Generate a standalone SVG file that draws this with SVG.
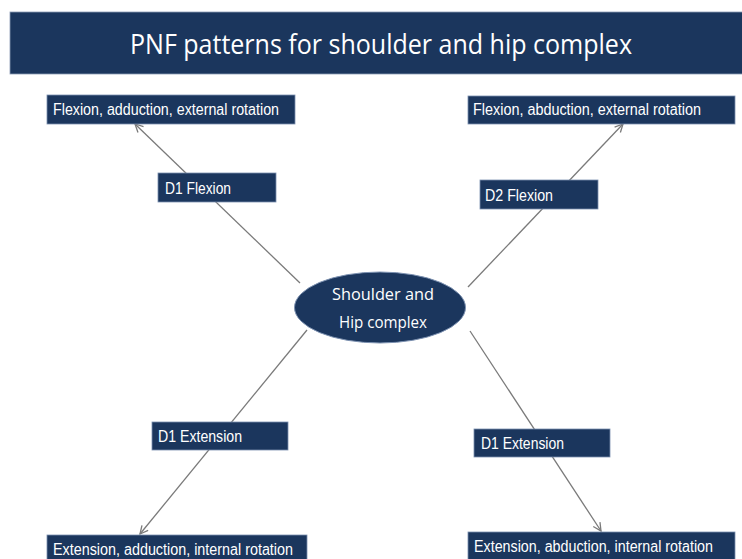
<svg xmlns="http://www.w3.org/2000/svg" width="742" height="559" viewBox="0 0 742 559">
  <style>
    .box { fill: #1b365d; stroke: #7b90b0; stroke-width: 0.8; }
    .lbl { font-family: "Liberation Sans", Arial, sans-serif; font-size: 16px; fill: #ffffff; }
    .conn { stroke: #7a7a7a; stroke-width: 1.3; fill: none; marker-end: url(#arrow); }
    .hub { font-family: "Open Sans", "Liberation Sans", sans-serif; font-size: 17px; fill: #ffffff; text-anchor: middle; }
  </style>
  <defs>
    <marker id="arrow" viewBox="0 0 10 10" refX="9" refY="5" markerWidth="10" markerHeight="10" markerUnits="userSpaceOnUse" orient="auto">
      <path d="M1,1 L9,5 L1,9" fill="none" stroke="#7a7a7a" stroke-width="1.3"/>
    </marker>
  </defs>
  <rect width="742" height="559" fill="#ffffff"/>

  <!-- title banner -->
  <g id="title">
    <rect x="10" y="12" width="740" height="62" fill="#1b365d" stroke="#8a9bb5" stroke-width="0.8"/>
    <text x="381" y="54" font-family="Open Sans, Liberation Sans, sans-serif" font-size="28" fill="#ffffff" text-anchor="middle" textLength="502" lengthAdjust="spacingAndGlyphs">PNF patterns for shoulder and hip complex</text>
  </g>

  <!-- connectors from the hub to each pattern -->
  <g id="connectors">
    <line class="conn" x1="300" y1="283" x2="135" y2="124"/>
    <line class="conn" x1="468" y1="287" x2="623" y2="124"/>
    <line class="conn" x1="307" y1="330" x2="140" y2="534"/>
    <line class="conn" x1="470" y1="331" x2="601" y2="531"/>
  </g>

  <!-- hub -->
  <g id="hub">
    <ellipse cx="380" cy="307.5" rx="85.5" ry="35.5" fill="#1b365d" stroke="#7b90b0" stroke-width="1"/>
    <text class="hub" x="383" y="300" textLength="102" lengthAdjust="spacingAndGlyphs">Shoulder and</text>
    <text class="hub" x="383" y="328" textLength="88" lengthAdjust="spacingAndGlyphs">Hip complex</text>
  </g>

  <!-- diagonal labels -->
  <g id="d1-flexion">
    <rect class="box" x="158" y="173" width="118" height="29"/>
    <text class="lbl" x="165" y="194" textLength="66" lengthAdjust="spacingAndGlyphs">D1 Flexion</text>
  </g>
  <g id="d2-flexion">
    <rect class="box" x="480" y="180" width="118" height="29"/>
    <text class="lbl" x="485" y="201" textLength="68" lengthAdjust="spacingAndGlyphs">D2 Flexion</text>
  </g>
  <g id="d1-extension-left">
    <rect class="box" x="152" y="422" width="136" height="28"/>
    <text class="lbl" x="158" y="442" textLength="84" lengthAdjust="spacingAndGlyphs">D1 Extension</text>
  </g>
  <g id="d1-extension-right">
    <rect class="box" x="474" y="429" width="136" height="28"/>
    <text class="lbl" x="481" y="449" textLength="83" lengthAdjust="spacingAndGlyphs">D1 Extension</text>
  </g>

  <!-- end-range patterns -->
  <g id="flex-add-er">
    <rect class="box" x="47" y="95" width="248" height="29"/>
    <text class="lbl" x="53" y="115" textLength="226" lengthAdjust="spacingAndGlyphs">Flexion, adduction, external rotation</text>
  </g>
  <g id="flex-abd-er">
    <rect class="box" x="468" y="96" width="267" height="28"/>
    <text class="lbl" x="473" y="115" textLength="228" lengthAdjust="spacingAndGlyphs">Flexion, abduction, external rotation</text>
  </g>
  <g id="ext-add-ir">
    <rect class="box" x="47" y="535" width="260" height="30"/>
    <text class="lbl" x="53" y="555" textLength="240" lengthAdjust="spacingAndGlyphs">Extension, adduction, internal rotation</text>
  </g>
  <g id="ext-abd-ir">
    <rect class="box" x="468" y="532" width="267" height="30"/>
    <text class="lbl" x="474" y="552" textLength="239" lengthAdjust="spacingAndGlyphs">Extension, abduction, internal rotation</text>
  </g>
</svg>
